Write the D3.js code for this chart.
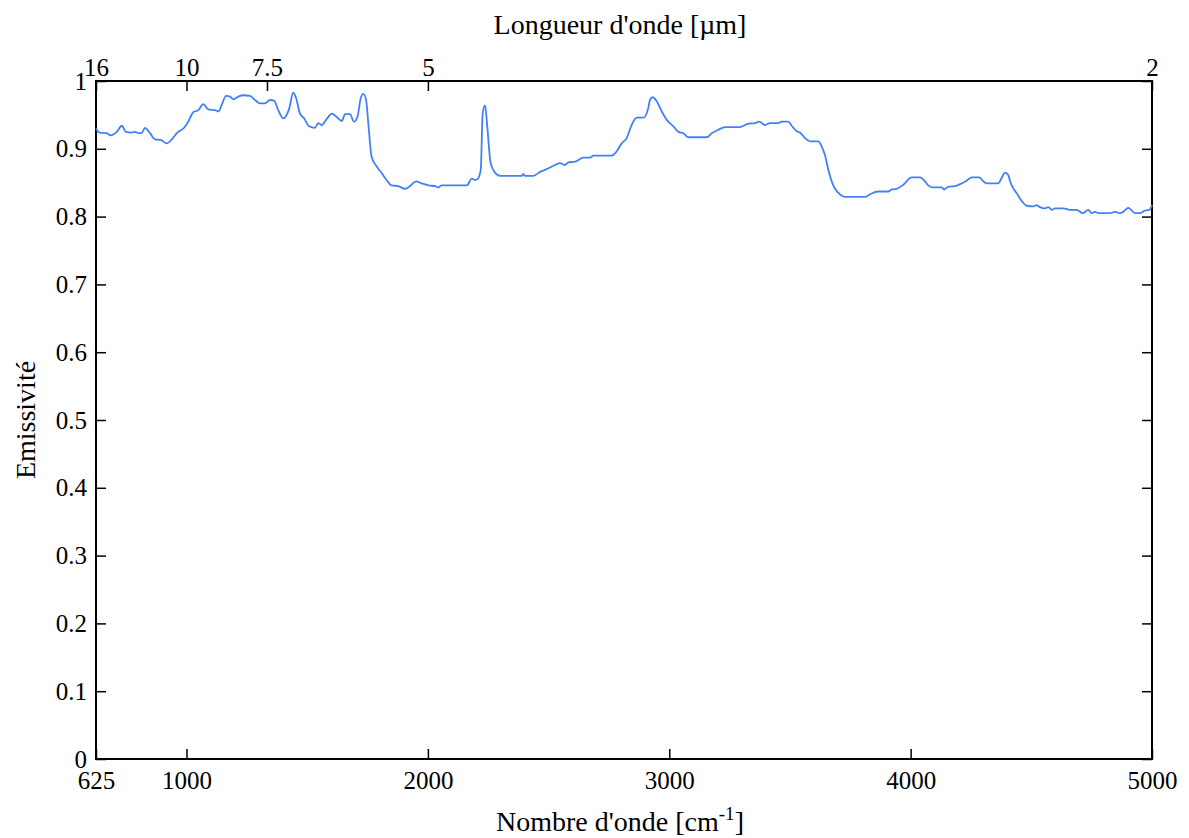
<!DOCTYPE html>
<html>
<head>
<meta charset="utf-8">
<script src="https://cdn.jsdelivr.net/npm/d3@7"></script>
<style>
html,body{margin:0;padding:0;background:#fff;}
svg{display:block;font-family:"Liberation Serif","Times New Roman",serif;}
</style>
</head>
<body>
<svg id="chart" width="1189" height="838"></svg>
<script>
// Wavenumber [cm^-1]
const wavenumbers = [625,639,669,686,711,732,749,773,787,800,814,828,849,869,893,918,939,962,990,1007,1028,1049,1070,1090,1118,1132,1146,1164,1180,1194,1215,1235,1263,1284,1305,1325,1346,1363,1380,1401,1415,1426,1442,1454,1470,1487,1509,1532,1546,1560,1581,1602,1622,1643,1657,1677,1694,1708,1722,1732,1744,1753,1767,1788,1809,1829,1850,1877,1905,1926,1951,1974,2002,2030,2043,2057,2161,2182,2195,2205,2219,2227,2237,2246,2260,2278,2299,2389,2395,2402,2437,2465,2492,2520,2547,2568,2582,2610,2644,2672,2685,2762,2782,2803,2824,2844,2865,2893,2913,2920,2931,2948,2969,2989,3017,3038,3058,3079,3155,3176,3203,3231,3293,3307,3328,3355,3373,3397,3417,3452,3466,3493,3507,3528,3542,3562,3583,3618,3632,3645,3659,3673,3687,3707,3728,3811,3832,3866,3908,3922,3942,3970,4004,4039,4060,4073,4094,4129,4138,4156,4184,4205,4232,4253,4285,4301,4315,4363,4377,4391,4405,4412,4425,4440,4460,4481,4508,4522,4536,4557,4570,4585,4598,4633,4660,4688,4713,4736,4750,4764,4778,4826,4847,4865,4881,4902,4930,4950,4971,4989,5000];
// Emissivity
const emissivity = [0.930,0.924,0.923,0.920,0.925,0.934,0.925,0.924,0.925,0.923,0.923,0.931,0.923,0.914,0.913,0.908,0.914,0.924,0.931,0.940,0.954,0.957,0.966,0.958,0.957,0.955,0.965,0.978,0.977,0.973,0.977,0.979,0.978,0.972,0.967,0.967,0.972,0.971,0.957,0.945,0.950,0.960,0.983,0.975,0.952,0.945,0.933,0.931,0.938,0.935,0.944,0.952,0.947,0.941,0.951,0.951,0.940,0.947,0.975,0.981,0.972,0.938,0.888,0.874,0.864,0.854,0.846,0.845,0.841,0.845,0.852,0.849,0.846,0.845,0.843,0.846,0.846,0.856,0.854,0.855,0.869,0.952,0.964,0.933,0.879,0.865,0.860,0.860,0.863,0.860,0.860,0.866,0.870,0.875,0.879,0.876,0.880,0.881,0.887,0.887,0.890,0.890,0.896,0.908,0.916,0.935,0.946,0.946,0.960,0.972,0.976,0.970,0.955,0.943,0.933,0.925,0.923,0.917,0.917,0.923,0.928,0.932,0.932,0.934,0.937,0.938,0.940,0.935,0.938,0.938,0.940,0.940,0.934,0.926,0.924,0.916,0.911,0.911,0.903,0.891,0.869,0.852,0.841,0.833,0.829,0.829,0.833,0.837,0.837,0.840,0.841,0.847,0.858,0.858,0.852,0.846,0.843,0.843,0.840,0.844,0.845,0.848,0.853,0.858,0.858,0.852,0.849,0.849,0.857,0.865,0.861,0.852,0.842,0.834,0.823,0.816,0.815,0.817,0.814,0.812,0.814,0.810,0.812,0.812,0.810,0.810,0.805,0.810,0.805,0.807,0.805,0.805,0.807,0.805,0.807,0.813,0.805,0.805,0.809,0.810,0.817];

const bottomTicks = [625,1000,2000,3000,4000,5000];
const topTickWavelengths = [16,10,7.5,5,2];
const topTickLabels = ["16","10","7.5","5","2"];
const yTicks = [0,0.1,0.2,0.3,0.4,0.5,0.6,0.7,0.8,0.9,1];

const svg = d3.select("#chart");
const m = {left:96, right:1189-1152, top:81, bottom:838-759};
const W = 1189 - m.left - m.right, H = 838 - m.top - m.bottom;
const g = svg.append("g").attr("transform",`translate(${m.left},${m.top})`);

const x = d3.scaleLinear().domain([625,5000]).range([0,W]);
const y = d3.scaleLinear().domain([0,1]).range([H,0]);

const fs = "25px";
const tfs = "28px";
function style(sel){
  sel.select(".domain").remove();
  sel.selectAll(".tick line").attr("stroke","#000").attr("stroke-width",1.5);
  sel.selectAll(".tick text").attr("font-family","Liberation Serif, Times New Roman, serif").attr("font-size",fs).attr("fill","#000");
}

const fmtY = d3.format("~g");
g.append("g").call(d3.axisLeft(y).tickValues(yTicks).tickFormat(fmtY).tickSizeInner(-10).tickSizeOuter(0).tickPadding(9)).call(style);
g.append("g").attr("transform",`translate(${W},0)`).call(d3.axisRight(y).tickValues(yTicks).tickFormat("").tickSizeInner(-10).tickSizeOuter(0)).call(style);
g.append("g").attr("transform",`translate(0,${H})`).call(d3.axisBottom(x).tickValues(bottomTicks).tickFormat(d3.format("d")).tickSizeInner(-10).tickSizeOuter(0).tickPadding(12)).call(style);
const topAx = d3.axisTop(x).tickValues(topTickWavelengths.map(l=>10000/l)).tickFormat((d,i)=>topTickLabels[i]).tickSizeInner(-10).tickSizeOuter(0).tickPadding(5);
g.append("g").call(topAx).call(style);

// frame
g.append("rect").attr("x",0).attr("y",0).attr("width",W).attr("height",H)
  .attr("fill","none").attr("stroke","#000").attr("stroke-width",2);

const line = d3.line().curve(d3.curveMonotoneX).x((d,i)=>x(wavenumbers[i])).y(d=>y(d));
g.append("path").datum(emissivity).attr("d",line)
  .attr("fill","none").attr("stroke","#4281f5").attr("stroke-width",1.8).attr("stroke-linejoin","round");

// titles
svg.append("text").attr("x",620).attr("y",34).attr("text-anchor","middle").attr("font-size",tfs).text("Longueur d'onde [µm]");
const bt = svg.append("text").attr("x",620).attr("y",831).attr("text-anchor","middle").attr("font-size",tfs);
bt.append("tspan").text("Nombre d'onde [cm");
bt.append("tspan").attr("dy",-11).attr("font-size","19px").text("-1");
bt.append("tspan").attr("dy",11).text("]");
svg.append("text").attr("transform",`translate(35,${m.top+H/2}) rotate(-90)`).attr("text-anchor","middle").attr("font-size",tfs).text("Emissivité");
</script>
</body>
</html>
